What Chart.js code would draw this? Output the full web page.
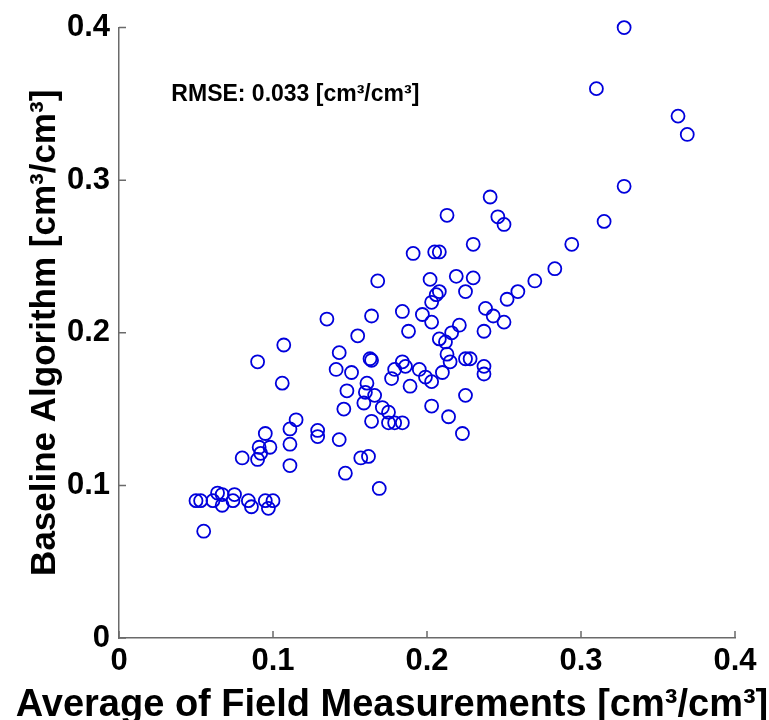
<!DOCTYPE html>
<html>
<head>
<meta charset="utf-8">
<script src="https://cdn.jsdelivr.net/npm/chart.js@4/dist/chart.umd.min.js"></script>
<style>
  html, body { margin: 0; padding: 0; background: #fff; }
  canvas { display: block; }
</style>
</head>
<body>
<canvas id="chart" width="769" height="720"></canvas>
<script>
// x: average of field measurements, y: baseline algorithm (cm3/cm3)
const fieldAvg = [
  0.328, 0.310, 0.363, 0.369, 0.328, 0.315, 0.241, 0.213, 0.246, 0.250,
  0.230, 0.294, 0.191, 0.205, 0.208, 0.283, 0.270, 0.168, 0.202, 0.219,
  0.230, 0.259, 0.225, 0.208, 0.206, 0.203, 0.252, 0.238, 0.243, 0.250,
  0.184, 0.197, 0.203, 0.164, 0.135, 0.155, 0.188, 0.237, 0.221, 0.216,
  0.208, 0.212, 0.107, 0.090, 0.143, 0.141, 0.151, 0.163, 0.164, 0.213,
  0.215, 0.225, 0.228, 0.184, 0.186, 0.179, 0.195, 0.199, 0.210, 0.237,
  0.237, 0.177, 0.203, 0.106, 0.161, 0.148, 0.160, 0.166, 0.189, 0.225,
  0.159, 0.171, 0.175, 0.146, 0.203, 0.214, 0.164, 0.175, 0.179, 0.184,
  0.115, 0.111, 0.095, 0.129, 0.129, 0.223, 0.143, 0.111, 0.091, 0.098,
  0.092, 0.090, 0.080, 0.157, 0.162, 0.111, 0.147, 0.169, 0.050, 0.053,
  0.061, 0.064, 0.067, 0.067, 0.074, 0.075, 0.084, 0.086, 0.095, 0.100,
  0.097, 0.055
];
const baseline = [
  0.400, 0.360, 0.342, 0.330, 0.296, 0.273, 0.289, 0.277, 0.276, 0.271,
  0.258, 0.258, 0.252, 0.253, 0.253, 0.242, 0.234, 0.234, 0.235, 0.237,
  0.236, 0.227, 0.227, 0.227, 0.225, 0.220, 0.222, 0.216, 0.211, 0.207,
  0.214, 0.212, 0.207, 0.211, 0.209, 0.198, 0.201, 0.201, 0.205, 0.200,
  0.196, 0.194, 0.192, 0.181, 0.187, 0.176, 0.174, 0.183, 0.182, 0.186,
  0.181, 0.183, 0.183, 0.181, 0.178, 0.176, 0.176, 0.171, 0.174, 0.178,
  0.173, 0.170, 0.168, 0.167, 0.167, 0.162, 0.161, 0.159, 0.165, 0.159,
  0.154, 0.151, 0.148, 0.150, 0.152, 0.145, 0.142, 0.141, 0.141, 0.141,
  0.143, 0.137, 0.134, 0.136, 0.132, 0.134, 0.130, 0.127, 0.125, 0.125,
  0.121, 0.117, 0.118, 0.118, 0.119, 0.113, 0.108, 0.098, 0.090, 0.090,
  0.090, 0.095, 0.094, 0.087, 0.090, 0.094, 0.090, 0.086, 0.090, 0.090,
  0.085, 0.070
];
const axisTicks = [0, 0.1, 0.2, 0.3, 0.4];
const tickLabels = ['0', '0.1', '0.2', '0.3', '0.4'];
const rmseText = 'RMSE: 0.033 [cm³/cm³]';
const rmsePos = [0.034, 0.356];

const FONT = '"Liberation Sans", Arial, sans-serif';
const axisColor = '#6a6a6a';

const points = fieldAvg.map((v, i) => ({ x: v, y: baseline[i] }));

function tickText(v) {
  const i = axisTicks.findIndex(t => Math.abs(t - v) < 1e-9);
  return i < 0 ? '' : tickLabels[i];
}

// matlab style: ticks point into the plot, plus the x label and the rmse note
const extras = {
  id: 'extras',
  afterDraw(chart) {
    const { ctx, chartArea, scales: { x, y } } = chart;
    ctx.save();
    ctx.strokeStyle = axisColor;
    ctx.lineWidth = 1.5;
    ctx.beginPath();
    axisTicks.forEach(t => {
      const px = x.getPixelForValue(t);
      ctx.moveTo(px, chartArea.bottom);
      ctx.lineTo(px, chartArea.bottom - 7);
      const py = y.getPixelForValue(t);
      ctx.moveTo(chartArea.left, py);
      ctx.lineTo(chartArea.left + 7, py);
    });
    ctx.stroke();

    ctx.fillStyle = '#000';
    ctx.font = 'bold 23px ' + FONT;
    ctx.textAlign = 'left';
    ctx.textBaseline = 'middle';
    ctx.fillText(rmseText, x.getPixelForValue(rmsePos[0]), y.getPixelForValue(rmsePos[1]));

    ctx.font = 'bold 38px ' + FONT;
    ctx.textAlign = 'center';
    ctx.textBaseline = 'alphabetic';
    ctx.fillText('Average of Field Measurements [cm³/cm³]', 392, 716);
    ctx.restore();
  }
};

new Chart(document.getElementById('chart'), {
  type: 'scatter',
  data: {
    datasets: [{
      data: points,
      pointStyle: 'circle',
      pointRadius: 6.5,
      pointBorderWidth: 1.8,
      borderColor: '#0000dc',
      backgroundColor: 'rgba(0,0,0,0)',
      clip: false
    }]
  },
  options: {
    responsive: false,
    animation: false,
    devicePixelRatio: 1,
    layout: { padding: { top: 25, right: 34, left: 0, bottom: 0 } },
    plugins: { legend: { display: false }, tooltip: { enabled: false } },
    scales: {
      x: {
        type: 'linear', min: 0, max: 0.4,
        afterBuildTicks: s => { s.ticks = axisTicks.map(v => ({ value: v })); },
        afterFit: s => { s.height = 82; },
        grid: { drawOnChartArea: false, drawTicks: false },
        border: { color: axisColor, width: 1.5 },
        ticks: {
          autoSkip: false, maxRotation: 0, padding: 5, color: '#000',
          font: { family: FONT, size: 31, weight: 'bold' },
          callback: tickText
        }
      },
      y: {
        type: 'linear', min: 0, max: 0.4,
        afterBuildTicks: s => { s.ticks = axisTicks.map(v => ({ value: v })); },
        afterFit: s => { s.width = 119; },
        grid: { drawOnChartArea: false, drawTicks: false },
        border: { color: axisColor, width: 1.5 },
        ticks: {
          autoSkip: false, padding: 9, color: '#000',
          font: { family: FONT, size: 31, weight: 'bold' },
          callback: tickText
        },
        title: {
          display: true,
          text: 'Baseline Algorithm [cm³/cm³]',
          color: '#000',
          font: { family: FONT, size: 35, weight: 'bold' },
          padding: { top: 24, bottom: 0 }
        }
      }
    }
  },
  plugins: [extras]
});
</script>
</body>
</html>
